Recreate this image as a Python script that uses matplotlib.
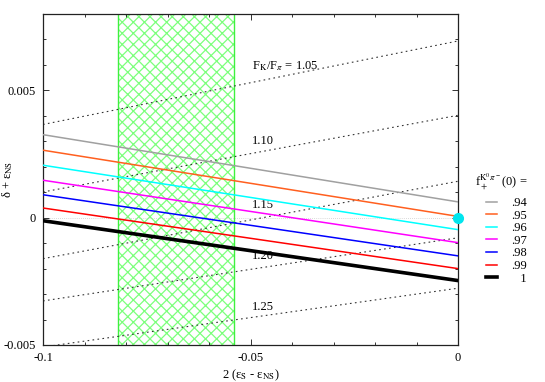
import matplotlib
matplotlib.use("Agg")
import matplotlib.pyplot as plt

plt.rcParams['font.family'] = ['Liberation Serif', 'DejaVu Serif']
plt.rcParams['mathtext.fontset'] = 'stix'
plt.rcParams['hatch.linewidth'] = 0.9

# x range of every line
x_ends = [-0.1, 0.0]

# f_+(0) lines: value at x=-0.1 and at x=0
f_labels = ['.94', '.95', '.96', '.97', '.98', '.99', '\u2007\u20081']
f_left = [0.00326, 0.00265, 0.00206, 0.00147, 0.00090, 0.00038, -0.00012]
f_right = [0.00062, 0.00005, -0.00047, -0.00098, -0.00150, -0.00200, -0.00247]
f_colors = ['#a0a0a0', '#ff5f1f', '#00ffff', '#ff00ff', '#0000ff', '#ff0000', '#000000']

# F_K/F_pi lines (dotted)
fk_labels = ['1.05', '1.10', '1.15', '1.20', '1.25']
fk_left = [0.00366, 0.00101, -0.00161, -0.00327, -0.00508]
fk_right = [0.00694, 0.00402, 0.00143, -0.00079, -0.00277]
fk_text_y = [0.00595, 0.00300, 0.00048, -0.00152, -0.00352]

# allowed band in x
band = [-0.082, -0.054]

fig = plt.figure(figsize=(5.45, 3.82), dpi=100)
ax = fig.add_axes([0.0789, 0.0969, 0.7615, 0.8665])

ax.axvspan(band[0], band[1], facecolor='none', edgecolor='#7cff7c',
           hatch='xxx', lw=0, zorder=1)
for b in band:
    ax.axvline(b, color='#3ef03e', lw=1.0, zorder=1)
ax.axhline(0, color='#b8b8b8', lw=0.5, ls=(0, (1, 2)), zorder=1)

for yl, yr, lab, ty in zip(fk_left, fk_right, fk_labels, fk_text_y):
    ax.plot(x_ends, [yl, yr], color='#333333', lw=0.8, ls=(0, (1.5, 3)), zorder=2)
    txt = lab if lab != '1.05' else r'F$_{\mathrm{K}}$/F$_{\pi}$ = ' + lab
    ax.text(-0.0496, ty, txt, fontsize=9, va='center', ha='left')

for yl, yr, lab, c in zip(f_left, f_right, f_labels, f_colors):
    lw = 2.6 if c == '#000000' else 1.1
    ax.plot(x_ends, [yl, yr], color=c, lw=lw, label=lab, zorder=3)

ax.plot([0], [0], 'o', color='#00e5ee', ms=7, clip_on=False, zorder=5)

ax.set_xlim(-0.1, 0.0)
ax.set_ylim(-0.005, 0.008)
ax.set_xticks([-0.1, -0.05, 0])
ax.set_xticklabels(['-0.1', '-0.05', '0'])
ax.set_yticks([-0.005, 0, 0.005])
ax.set_yticklabels(['-0.005', '0', '0.005'])
ax.set_xticks([i / 100 for i in range(-10, 1)], minor=True)
ax.set_yticks([i / 1000 for i in range(-5, 9)], minor=True)
ax.tick_params(which='both', direction='in', top=True, right=True,
               labelsize=9, width=0.7, color='#333333')
ax.tick_params(which='major', length=4, pad=5)
ax.tick_params(which='minor', length=2)
for s in ax.spines.values():
    s.set_linewidth(0.9)
    s.set_color('#222222')

ax.set_xlabel(r'2 (ε$_{\mathrm{S}}$ - ε$_{\mathrm{NS}}$)', fontsize=9)
ax.xaxis.set_label_coords(0.5, -0.068)
ax.set_ylabel(r'δ + ε$_{\mathrm{NS}}$', fontsize=9)
ax.yaxis.set_label_coords(-0.068, 0.5)

fig.text(475 / 545, 1 - 182 / 382, r'f$_+^{\mathrm{K}^0\pi^-}$(0) =',
         fontsize=9, ha='left', va='center')
leg = ax.legend(loc='upper left', bbox_to_anchor=(486 / 545, 1 - 197 / 382),
                bbox_transform=fig.transFigure, frameon=False, fontsize=9,
                handlelength=0.9, handletextpad=1.1, labelspacing=0.05,
                borderpad=0, borderaxespad=0)

fig.savefig('out.png', dpi=100)
